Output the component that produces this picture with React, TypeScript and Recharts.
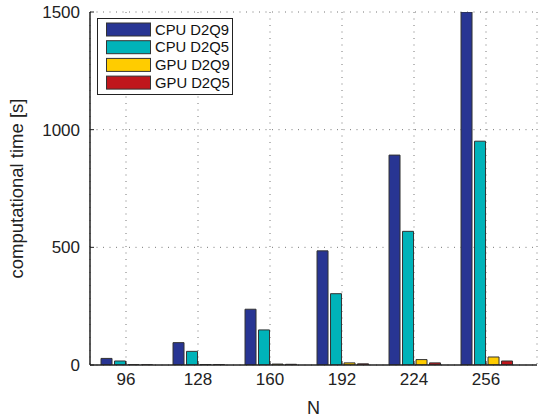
import React from "react";
import {
  BarChart,
  Bar,
  XAxis,
  YAxis,
  CartesianGrid,
  Legend,
} from "recharts";

const categories = ["96", "128", "160", "192", "224", "256"];
const cpuD2Q9 = [28, 95, 237, 485, 892, 1500];
const cpuD2Q5 = [17, 58, 149, 303, 568, 951];
const gpuD2Q9 = [1, 2, 4, 9, 23, 34];
const gpuD2Q5 = [0.5, 1.5, 3, 5, 9, 17];
const yTicks = [0, 500, 1000, 1500];

const SERIES = [
  { key: "cpu9", name: "CPU D2Q9", color: "#283593" },
  { key: "cpu5", name: "CPU D2Q5", color: "#00b3b9" },
  { key: "gpu9", name: "GPU D2Q9", color: "#ffcc00" },
  { key: "gpu5", name: "GPU D2Q5", color: "#c0161c" },
];

const data = categories.map((n, i) => ({
  n,
  cpu9: cpuD2Q9[i],
  cpu5: cpuD2Q5[i],
  gpu9: gpuD2Q9[i],
  gpu5: gpuD2Q5[i],
}));

const FONT = "'Liberation Sans', Arial, sans-serif";

// boxed legend like matlab's
const LegendBox = () => (
  <svg width={136} height={77} style={{ display: "block" }}>
    <rect x={0.5} y={0.5} width={135} height={76} fill="#fff" stroke="#222" />
    {SERIES.map((s, i) => (
      <g key={s.key}>
        <rect
          x={9.5}
          y={5 + i * 17.7}
          width={44}
          height={13}
          fill={s.color}
          stroke="#333"
        />
        <text
          x={58}
          y={11.5 + i * 17.7}
          dominantBaseline="central"
          fontFamily={FONT}
          fontSize={14.8}
          fill="#111"
        >
          {s.name}
        </text>
      </g>
    ))}
  </svg>
);

export default function App() {
  return (
    <div style={{ position: "absolute", left: 0, top: 0, background: "#fff" }}>
      <BarChart
        width={539}
        height={420}
        data={data}
        margin={{ top: 12, right: 2, bottom: 0, left: 0 }}
        barCategoryGap="15.3%"
        barGap={2.5}
      >
        <CartesianGrid stroke="#777" strokeDasharray="1 5.5" />
        <XAxis
          dataKey="n"
          height={55}
          padding={{ left: 0, right: 15 }}
          tickSize={-4}
          tickMargin={12}
          stroke="#222"
          axisLine={{ stroke: "#222", strokeWidth: 1.5 }}
          tick={{ fill: "#222", fontSize: 17, fontFamily: FONT }}
          label={{
            value: "N",
            position: "insideBottom",
            offset: 6,
            fill: "#222",
            fontSize: 18,
            fontFamily: FONT,
          }}
        />
        <XAxis
          xAxisId="top"
          dataKey="n"
          orientation="top"
          height={0}
          padding={{ left: 0, right: 15 }}
          tickSize={-4}
          tick={false}
          stroke="#222"
          axisLine={{ stroke: "#222", strokeWidth: 1.5 }}
        />
        <YAxis
          domain={[0, 1500]}
          ticks={yTicks}
          allowDataOverflow
          width={90}
          tickSize={-4}
          tickMargin={14}
          stroke="#222"
          axisLine={{ stroke: "#222", strokeWidth: 1.5 }}
          tick={{ fill: "#222", fontSize: 17, fontFamily: FONT }}
          label={{
            value: "computational time [s]",
            angle: -90,
            position: "insideLeft",
            offset: 16,
            style: { textAnchor: "middle" },
            fill: "#222",
            fontSize: 18.5,
            fontFamily: FONT,
          }}
        />
        <YAxis
          yAxisId="right"
          orientation="right"
          domain={[0, 1500]}
          ticks={yTicks}
          width={0}
          tickSize={-4}
          tick={false}
          stroke="#222"
          axisLine={{ stroke: "#222", strokeWidth: 1.5 }}
        />
        <Legend
          content={<LegendBox />}
          layout="vertical"
          align="center"
          verticalAlign="middle"
          wrapperStyle={{ position: "absolute", left: 97, top: 18, width: 136 }}
        />
        {SERIES.map((s) => (
          <Bar
            key={s.key}
            dataKey={s.key}
            name={s.name}
            fill={s.color}
            stroke="#333"
            strokeWidth={1}
            isAnimationActive={false}
          />
        ))}
      </BarChart>
    </div>
  );
}
